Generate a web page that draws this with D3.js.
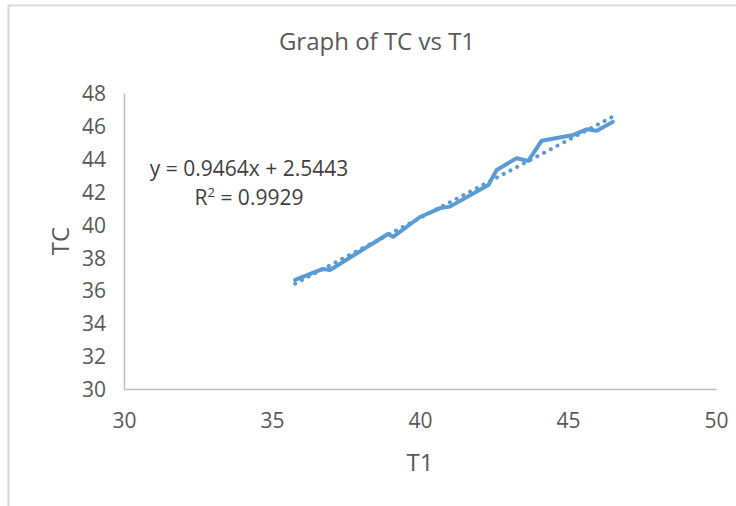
<!DOCTYPE html>
<html><head><meta charset="utf-8">
<script src="https://cdn.jsdelivr.net/npm/d3@7"></script>
<style>
html,body{margin:0;padding:0;background:#fff;}
svg{display:block;font-family:"Open Sans","Noto Sans",sans-serif;}
</style></head>
<body><svg id="c" width="736" height="506"></svg>
<script>
const t1 = [35.78, 36.72, 36.96, 38.92, 39.09, 40.0, 40.68, 41.01, 42.31, 42.59, 43.26, 43.66, 44.11, 45.18, 45.63, 45.97, 46.51];
const tc = [36.63, 37.30, 37.24, 39.43, 39.25, 40.46, 41.0, 41.09, 42.41, 43.32, 44.03, 43.87, 45.10, 45.45, 45.79, 45.71, 46.24];
const xTicks = [30, 35, 40, 45, 50];
const yTicks = [30, 32, 34, 36, 38, 40, 42, 44, 46, 48];
const slope = 0.9464, intercept = 2.5443, r2 = 0.9929;
const title = "Graph of TC vs T1", xTitle = "T1", yTitle = "TC";

const svg = d3.select("#c");
// outer frame
svg.append("path").attr("d","M8.5,506 V5.5 H736").attr("fill","none").attr("stroke","#d9d9d9").attr("stroke-width",2);

const x = d3.scaleLinear().domain([30,50]).range([124,716]);
const y = d3.scaleLinear().domain([30,48]).range([389,93]);

const xa = svg.append("g").attr("transform","translate(0,389)")
  .call(d3.axisBottom(x).tickValues(xTicks).tickSize(0).tickPadding(24));
const ya = svg.append("g").attr("transform","translate(124,0)")
  .call(d3.axisLeft(y).tickValues(yTicks).tickSize(0).tickPadding(18));
[xa,ya].forEach(g=>{
  g.select(".domain").attr("stroke","#bfbfbf").attr("stroke-width",1.5);
  g.selectAll("text").attr("fill","#595959").attr("font-size",21).attr("font-family","'Open Sans',sans-serif");
});
ya.selectAll("text").attr("dy","0.36em");

// trendline
const xr = d3.extent(t1);
svg.append("line")
  .attr("x1",x(xr[0])).attr("y1",y(slope*xr[0]+intercept))
  .attr("x2",x(xr[1])).attr("y2",y(slope*xr[1]+intercept))
  .attr("stroke","#5b9bd5").attr("stroke-width",4).attr("stroke-linecap","round")
  .attr("stroke-dasharray","0.1 7.5");

// data line
const line = d3.line().x((d,i)=>x(t1[i])).y(d=>y(d));
svg.append("path").datum(tc).attr("d",line).attr("fill","none")
  .attr("stroke","#5b9bd5").attr("stroke-width",4).attr("stroke-linejoin","round").attr("stroke-linecap","round");

// title
svg.append("text").attr("x",377).attr("y",50).attr("text-anchor","middle")
  .attr("font-size",24).attr("fill","#595959").text(title);
svg.append("text").attr("x",420).attr("y",471).attr("text-anchor","middle")
  .attr("font-size",24).attr("fill","#595959").text(xTitle);
svg.append("text").attr("transform","translate(69,241) rotate(-90)").attr("text-anchor","middle")
  .attr("font-size",24).attr("fill","#595959").text(yTitle);

// equation
svg.append("text").attr("x",249).attr("y",176).attr("text-anchor","middle")
  .attr("font-size",21).attr("fill","#404040").text(`y = ${slope}x + ${intercept}`);
const r = svg.append("text").attr("x",249).attr("y",205).attr("text-anchor","middle")
  .attr("font-size",21).attr("fill","#404040");
r.append("tspan").text("R");
r.append("tspan").attr("font-size",13).attr("dy",-8).text("2");
r.append("tspan").attr("dy",8).text(` = ${r2}`);
</script></body></html>
